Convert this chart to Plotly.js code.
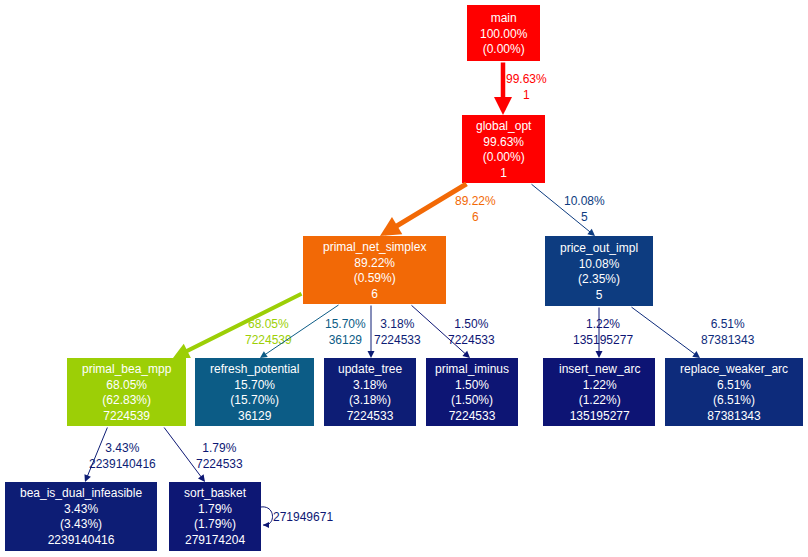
<!DOCTYPE html>
<html>
<head>
<meta charset="utf-8">
<script src="https://cdn.plot.ly/plotly-3.0.1.min.js"></script>
<style>body{margin:0;background:#fff}</style>
</head>
<body>
<div id="chart" style="width:808px;height:557px"></div>
<script>
// call graph data
var nodeNames = ["main","global_opt","primal_net_simplex","price_out_impl","primal_bea_mpp",
  "refresh_potential","update_tree","primal_iminus","insert_new_arc","replace_weaker_arc",
  "bea_is_dual_infeasible","sort_basket"]
var nodeTotal = ["100.00%","99.63%","89.22%","10.08%","68.05%","15.70%","3.18%","1.50%","1.22%","6.51%","3.43%","1.79%"]
var nodeSelf = ["0.00%","0.00%","0.59%","2.35%","62.83%","15.70%","3.18%","1.50%","1.22%","6.51%","3.43%","1.79%"]
var nodeCalls = ["","1","6","5","7224539","36129","7224533","7224533","135195277","87381343","2239140416","279174204"]
var nodeColors = ["#ff0000","#ff0000","#f26906","#0d3c80","#9ccf06","#0c5c86","#0d1d75","#0d1574","#0d1474","#0d2b7b","#0d1d75","#0d1774"]

var edgeFrom = [0,1,1,2,2,2,2,3,3,4,4]
var edgeTo = [1,2,3,4,5,6,7,8,9,10,11]
var edgePct = ["99.63%","89.22%","10.08%","68.05%","15.70%","3.18%","1.50%","1.22%","6.51%","3.43%","1.79%"]
var edgeCalls = ["1","6","5","7224539","36129","7224533","7224533","135195277","87381343","2239140416","7224533"]
var edgeColors = ["#ff0000","#f26906","#0d3c80","#9ccf06","#0c5c86","#0d1d75","#0d1574","#0d1474","#0d2b7b","#0d1d75","#0d1774"]
var edgeWidths = [4.5,5,1,4,1,1,1,1,1,1,1]
var selfLoopCalls = "271949671"

// layout of the graph (pixel space)
var nodeBox = [[467,540,5,61],[462,545,115,183],[303,446,236,304],[545,653,236,306],
  [67,186,358,426],[195,314,358,426],[324,416,358,426],[426,518,358,426],
  [543,655,358,426],[665,803,358,426],[5,157,482,551],[169,261,482,551]]
var edgeLabelPos = [[526,87],[475,209],[584,209],[268,332],[345,332],[397,332],[471,332],
  [603,332],[728,332],[122,456],[219,456]]
var edgeAnchors = [[503,61,503,115],[468,183,380,236],[530,183,595,236],[303,293,173,358],
  [340,304,260,358],[371,304,371,358],[410,304,470,358],[599,306,599,358],[630,306,700,358],
  [108,426,85,482],[163,426,205,482]]

var shapes = [], annotations = []
nodeNames.forEach(function(n, i) {
  var b = nodeBox[i]
  shapes.push({type:"rect", xref:"x", yref:"y", x0:b[0], x1:b[1], y0:b[2], y1:b[3],
    fillcolor:nodeColors[i], line:{width:0}, layer:"below"})
  var lines = [n, nodeTotal[i], "(" + nodeSelf[i] + ")"]
  if (nodeCalls[i]) lines.push(nodeCalls[i])
  annotations.push({x:(b[0]+b[1])/2, y:(b[2]+b[3])/2, xref:"x", yref:"y", text:lines.join("<br>"),
    showarrow:false, font:{color:"#ffffff", size:12}})
})
edgeFrom.forEach(function(f, i) {
  var a = edgeAnchors[i]
  annotations.push({x:a[2], y:a[3], ax:a[0], ay:a[1], xref:"x", yref:"y", axref:"x", ayref:"y",
    showarrow:true, arrowhead:2, arrowsize:edgeWidths[i] > 2 ? 0.8 : 1.4, arrowwidth:edgeWidths[i],
    arrowcolor:edgeColors[i], text:"", standoff:0})
  var p = edgeLabelPos[i]
  annotations.push({x:p[0], y:p[1], xref:"x", yref:"y", text:edgePct[i] + "<br>" + edgeCalls[i],
    showarrow:false, font:{color:edgeColors[i], size:12}})
})
// self loop on sort_basket
shapes.push({type:"path", xref:"x", yref:"y", path:"M261,507 C276,505 276,527 263,525",
  line:{color:"#0d1774", width:1}})
annotations.push({x:263, y:525, ax:268, ay:525, xref:"x", yref:"y", axref:"x", ayref:"y",
  showarrow:true, arrowhead:2, arrowsize:1.2, arrowwidth:1, arrowcolor:"#0d1774", text:""})
annotations.push({x:303, y:517, xref:"x", yref:"y", text:selfLoopCalls, showarrow:false,
  font:{color:"#0d1774", size:12}})

Plotly.newPlot("chart", [{x:[], y:[], type:"scatter"}], {
  width:808, height:557, margin:{l:0,r:0,t:0,b:0},
  paper_bgcolor:"#ffffff", plot_bgcolor:"#ffffff",
  font:{family:"Liberation Sans, Arial, sans-serif", size:12},
  xaxis:{range:[0,808], visible:false, fixedrange:true},
  yaxis:{range:[557,0], visible:false, fixedrange:true},
  shapes:shapes, annotations:annotations, showlegend:false
}, {staticPlot:true})
</script>
</body>
</html>
